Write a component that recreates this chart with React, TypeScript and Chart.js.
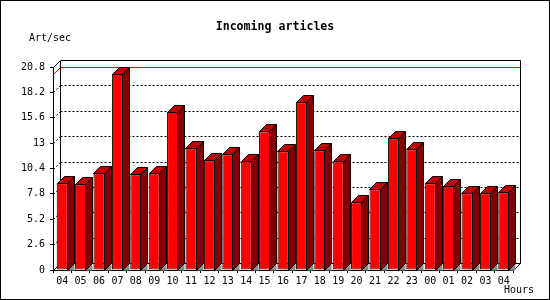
import React, { useEffect, useRef } from "react";
import { Chart, registerables } from "chart.js";

Chart.register(...registerables);

const hours = ["04","05","06","07","08","09","10","11","12","13","14","15","16","17","18","19","20","21","22","23","00","01","02","03","04"];
const articlesPerSec = [8.88, 8.78, 9.9, 20.08, 9.8, 9.9, 16.19, 12.47, 11.24, 11.85, 11.14, 14.21, 12.16, 17.18, 12.26, 11.14, 6.94, 8.27, 13.49, 12.37, 8.88, 8.57, 7.86, 7.86, 7.96];
const yTicks = [0, 2.6, 5.2, 7.8, 10.4, 13, 15.6, 18.2, 20.8];
const yMax = 20.8;
const titleText = "Incoming articles";
const yUnitText = "Art/sec";
const xUnitText = "Hours";

const DEPTH = 7;
const MONO = '"DejaVu Sans Mono", "Liberation Mono", monospace';

const threeD = {
  id: "threeD",
  beforeDatasetsDraw(chart: any) {
    const { ctx, chartArea: a, scales } = chart;
    const y = scales.y;
    const L = Math.round(a.left) + 0.5;
    const R = Math.round(a.right) + 0.5;
    const T = Math.round(a.top) + 0.5;
    const B = Math.round(a.bottom) + 0.5;
    ctx.save();
    ctx.lineWidth = 1;
    ctx.strokeStyle = "#000";
    ctx.setLineDash([2, 2]);
    for (const v of yTicks) {
      if (v <= 0 || v >= yMax) continue;
      const py = Math.round(y.getPixelForValue(v)) + 0.5;
      ctx.beginPath();
      ctx.moveTo(L + DEPTH, py - DEPTH);
      ctx.lineTo(R + DEPTH, py - DEPTH);
      ctx.stroke();
      ctx.beginPath();
      ctx.moveTo(L, py);
      ctx.lineTo(L + DEPTH, py - DEPTH);
      ctx.stroke();
    }
    ctx.setLineDash([]);
    const maxV = Math.max(...articlesPerSec);
    const my = Math.round(y.getPixelForValue(maxV)) + 0.5;
    ctx.strokeStyle = "#ff0000";
    ctx.beginPath();
    ctx.moveTo(L, my);
    ctx.lineTo(L + DEPTH, my - DEPTH);
    ctx.lineTo(R + DEPTH, my - DEPTH);
    ctx.stroke();
    ctx.strokeStyle = "#000";
    ctx.beginPath();
    ctx.moveTo(L + DEPTH, B - DEPTH);
    ctx.lineTo(L + DEPTH, T - DEPTH);
    ctx.lineTo(R + DEPTH, T - DEPTH);
    ctx.lineTo(R + DEPTH, B - DEPTH);
    ctx.lineTo(L + DEPTH, B - DEPTH);
    ctx.moveTo(L, T);
    ctx.lineTo(L + DEPTH, T - DEPTH);
    ctx.moveTo(L, B);
    ctx.lineTo(L + DEPTH, B - DEPTH);
    ctx.moveTo(R, B);
    ctx.lineTo(R + DEPTH, B - DEPTH);
    ctx.stroke();
    ctx.restore();
  },
  afterDatasetsDraw(chart: any) {
    const { ctx } = chart;
    const meta = chart.getDatasetMeta(0);
    ctx.save();
    ctx.lineWidth = 1;
    ctx.strokeStyle = "#000";
    for (const el of meta.data) {
      const { x, y, base, width } = el.getProps(["x", "y", "base", "width"], true);
      const l = Math.round(x - width / 2) + 0.5;
      const r = Math.round(x + width / 2) - 0.5;
      const t = Math.round(y) + 0.5;
      const b = Math.round(base) + 0.5;
      ctx.fillStyle = "#8c8c8c";
      ctx.beginPath();
      ctx.moveTo(r, b);
      ctx.lineTo(r + DEPTH, b - DEPTH);
      ctx.lineTo(r + DEPTH, b);
      ctx.closePath();
      ctx.fill();
      ctx.fillStyle = "#800000";
      ctx.beginPath();
      ctx.moveTo(r, t);
      ctx.lineTo(r + DEPTH, t - DEPTH);
      ctx.lineTo(r + DEPTH, b - DEPTH);
      ctx.lineTo(r, b);
      ctx.closePath();
      ctx.fill();
      ctx.stroke();
      ctx.fillStyle = "#c00000";
      ctx.beginPath();
      ctx.moveTo(l, t);
      ctx.lineTo(l + DEPTH, t - DEPTH);
      ctx.lineTo(r + DEPTH, t - DEPTH);
      ctx.lineTo(r, t);
      ctx.closePath();
      ctx.fill();
      ctx.stroke();
    }
    ctx.restore();
  },
  afterDraw(chart: any) {
    const { ctx, width, height, chartArea: a } = chart;
    ctx.save();
    ctx.fillStyle = "#000";
    ctx.font = `10px ${MONO}`;
    ctx.textBaseline = "middle";
    ctx.textAlign = "left";
    ctx.fillText(yUnitText, 29, 38);
    ctx.textAlign = "right";
    ctx.fillText(xUnitText, a.right + 21, 290.5);
    ctx.strokeStyle = "#000";
    ctx.lineWidth = 1;
    ctx.strokeRect(0.5, 0.5, width - 1, height - 1);
    ctx.restore();
  },
};

export default function App() {
  const ref = useRef<HTMLCanvasElement>(null);
  useEffect(() => {
    const chart = new Chart(ref.current!, {
      type: "bar",
      data: {
        labels: hours,
        datasets: [
          {
            data: articlesPerSec,
            backgroundColor: "#ff0000",
            borderColor: "#000000",
            borderWidth: 1,
            borderSkipped: false,
            categoryPercentage: 1,
            barPercentage: 0.6,
            yAxisID: "y",
          },
        ],
      },
      options: {
        animation: false,
        responsive: false,
        devicePixelRatio: 1,
        layout: { padding: 0 },
        plugins: {
          legend: { display: false },
          tooltip: { enabled: false },
          title: {
            display: true,
            text: titleText,
            color: "#000",
            font: { family: MONO, size: 11.6, weight: "bold", lineHeight: 1 },
            padding: { top: 21, bottom: 34.4 },
          },
        },
        scales: {
          x: {
            grid: { drawOnChartArea: false, drawTicks: true, tickLength: 3, color: "#000", offset: true },
            border: { display: true, color: "#000" },
            ticks: {
              color: "#000",
              font: { family: MONO, size: 10 },
              autoSkip: false,
              maxRotation: 0,
              padding: 2,
            },
            afterFit(scale: any) {
              scale.height = 30;
            },
          },
          y: {
            position: "left",
            min: 0,
            max: yMax,
            grid: { drawOnChartArea: false, drawTicks: true, tickLength: 3, color: "#000" },
            border: { display: true, color: "#000" },
            afterBuildTicks(scale: any) {
              scale.ticks = yTicks.map((value) => ({ value }));
            },
            ticks: {
              color: "#000",
              font: { family: MONO, size: 10 },
              padding: 5,
              callback: (v: any) => String(parseFloat(Number(v).toFixed(1))),
            },
            afterFit(scale: any) {
              scale.width = 53;
            },
          },
          yRight: {
            type: "linear",
            position: "right",
            min: 0,
            max: yMax,
            grid: { display: false },
            border: { display: false },
            ticks: { display: false },
            afterFit(scale: any) {
              scale.width = 37;
            },
          },
        },
      },
      plugins: [threeD],
    } as any);
    return () => chart.destroy();
  }, []);
  return (
    <div style={{ position: "absolute", left: 0, top: 0, width: 550, height: 300, background: "#fff" }}>
      <canvas ref={ref} width={550} height={300} style={{ display: "block" }} />
    </div>
  );
}
